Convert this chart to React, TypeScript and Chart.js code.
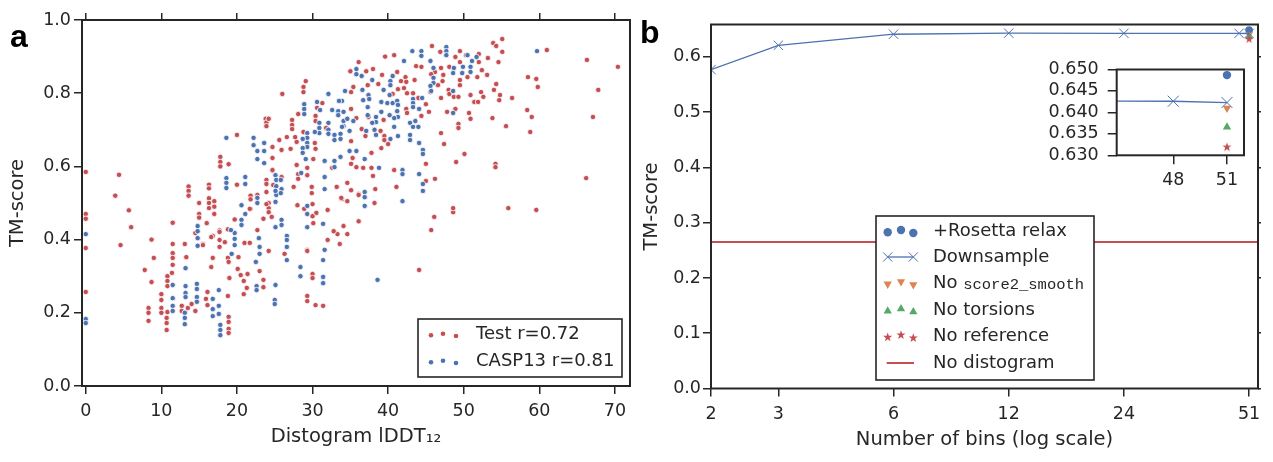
import React, { useEffect, useRef } from 'react';
import { Chart, registerables } from 'chart.js';
Chart.register(...registerables);

const RED = '#c44e52';
const BLUE = '#4c72b0';
const ORANGE = '#dd8452';
const GREEN = '#55a868';
const INK = '#262626';
const FONT = "'DejaVu Sans', sans-serif";

// ---------- panel a : distogram lDDT vs TM-score ----------
const testPoints: number[][] = [
  [0,0.585],[0,0.47],[0,0.457],[0,0.377],[0,0.257],
  [4.4,0.577],[3.9,0.52],[5.7,0.48],[6,0.434],[4.6,0.385],[8.7,0.40],[11.5,0.446],
  [13.6,0.545],[13.6,0.533],[13.6,0.52],[15,0.50],[15,0.47],[15,0.46],[16,0.445],
  [16.3,0.55],[16.3,0.54],[16.3,0.513],[16.3,0.50],[16.3,0.486],
  [17,0.505],[17,0.49],[17,0.47],[16.8,0.41],
  [17.8,0.626],[17.8,0.612],[17.8,0.60],[18.9,0.606],[17.7,0.425],[18.8,0.428],[19.7,0.455],
  [20,0.686],[20,0.55],[21.8,0.52],[21.8,0.51],[21.8,0.484],[22.7,0.426],
  [23.8,0.73],[23.9,0.72],[23.9,0.71],[23.9,0.563],[23.9,0.552],[23.9,0.53],[23.5,0.457],[24.2,0.5],[24.2,0.486],[24.7,0.588],
  [39.6,0.90],[36.1,0.885],[35,0.86],[38,0.866],[39.2,0.85],[37.1,0.86],[29.1,0.833],[28.8,0.817],[28.8,0.803],[26,0.798],
  [35.4,0.817],[37.3,0.822],[38.7,0.825],[35.1,0.803],[31.3,0.773],[30.6,0.76],[28.1,0.743],[27.3,0.727],[27.3,0.713],[27.3,0.702],
  [24.2,0.73],[30.4,0.738],[30.4,0.724],[31.8,0.705],[28.8,0.694],[35.1,0.757],[35.8,0.732],[37.4,0.735],[39.4,0.727],[39,0.697],
  [36.5,0.702],[37,0.683],[39.5,0.683],[39.5,0.672],[40,0.661],[39.1,0.65],[37.8,0.637],[35.1,0.669],[30.3,0.664],[30.4,0.648],
  [27.9,0.667],[27.7,0.68],[26.6,0.68],[25.6,0.672],[25.9,0.645],[24.7,0.653],[24.7,0.623],[27.1,0.648],[30.1,0.62],[29.3,0.596],
  [27.9,0.604],[24.7,0.59],[25.9,0.571],[28.1,0.579],[28.1,0.566],[29.3,0.576],[27.5,0.544],[29.9,0.544],[29.9,0.527],[22.7,0.522],
  [35.8,0.598],[35.1,0.607],[36.7,0.596],[37.8,0.596],[38,0.574],[38.3,0.538],[35.3,0.623],[34.6,0.555],[35.1,0.535],[36.1,0.525],
  [33.9,0.511],[33.2,0.544],[32.6,0.596],[24.8,0.549],
  [55.1,0.948],[53.9,0.937],[54.3,0.929],[55.1,0.913],[61,0.918],[54.6,0.885],[53.2,0.896],[52,0.907],[45.8,0.929],[46.9,0.913],
  [49.5,0.915],[48.9,0.899],[50.3,0.904],[52,0.885],[49.5,0.885],[52.4,0.863],[53.1,0.85],[51.8,0.844],[50.5,0.844],[49.5,0.836],
  [49.5,0.822],[48.1,0.872],[47,0.869],[47.3,0.85],[46.2,0.858],[45.7,0.852],[47.2,0.833],[46.6,0.822],[44.4,0.872],[43.7,0.874],
  [43.5,0.836],[41.2,0.858],[40.8,0.904],[42.3,0.844],[42.4,0.831],[41.7,0.833],[41.3,0.811],[42.1,0.814],[40.6,0.798],[42.5,0.8],
  [43.3,0.8],[44,0.787],[45.6,0.803],[48,0.809],[48.1,0.798],[48.7,0.79],[49.3,0.79],[47,0.787],[50.9,0.795],[52.3,0.803],
  [52.6,0.79],[51.4,0.776],[51.9,0.776],[54,0.809],[54.3,0.825],[54.8,0.795],[54.7,0.781],[56.4,0.787],[58.5,0.844],[59.6,0.839],
  [59.8,0.817],[58.4,0.754],[59,0.735],[58.8,0.694],[55.6,0.71],[53.8,0.732],[50.7,0.746],[50.9,0.73],[49.3,0.716],[49.3,0.705],
  [47.8,0.749],[48.9,0.757],[47,0.691],[47.4,0.661],[50.1,0.634],[49,0.612],[45,0.607],[46.2,0.566],[45,0.56],[54.2,0.607],
  [54.2,0.598],[41.1,0.544],[40.8,0.59],[45.4,0.749],[44.4,0.738],[45,0.77],[42.4,0.757],[42.5,0.746],
  [66.3,0.891],[70.4,0.872],[67.8,0.809],[67.1,0.735],[66.2,0.568],[59.6,0.481],[55.9,0.486],[46.1,0.462],[45.7,0.426],[48.6,0.475],
  [48.6,0.486],[44.1,0.317],
  [38.2,0.5],[36.1,0.45],[34.1,0.437],[34.6,0.415],[33.3,0.415],[32.8,0.423],[33.6,0.388],[32,0.399],[30,0.497],[30.5,0.473],
  [30,0.464],[30.1,0.445],[29.3,0.372],[30,0.306],[30,0.295],[29.3,0.246],[29.3,0.232],[30.4,0.221],[31.4,0.219],[36.1,0.522],
  [34.6,0.505],[33.8,0.514],[32,0.481],
  [11.5,0.388],[13.1,0.388],[14.5,0.418],[15.5,0.388],[16.6,0.407],[17.7,0.421],[17.7,0.399],[17.7,0.38],[18.4,0.393],[21,0.391],
  [21.7,0.391],[20.2,0.352],[18.8,0.35],[18.9,0.339],[16.8,0.35],[16.6,0.325],[13.3,0.352],[11.5,0.363],[11.5,0.35],[11.5,0.331],
  [11.4,0.309],[9,0.35],[7.8,0.317],[8.7,0.284],[10.8,0.3],[10.8,0.287],[10.8,0.273],[10,0.251],[10,0.235],[10,0.213],
  [10,0.2],[8.3,0.213],[8.3,0.2],[8.3,0.178],[10.7,0.186],[10.7,0.172],[10.7,0.153],[10.8,0.202],[12.7,0.219],[12.7,0.205],
  [13.5,0.213],[14,0.224],[14.5,0.205],[15.9,0.238],[16.1,0.257],[16.1,0.221],[18.8,0.246],[18.9,0.189],[18.9,0.175],[18.9,0.156],
  [18.9,0.145],[19,0.295],[20.1,0.32],[20.5,0.303],[20.9,0.287],[21.4,0.306],[21.3,0.268],[20.9,0.251],[23,0.314],[23.5,0.29],
  [23.5,0.27],[24.2,0.369],[26.3,0.361],[29.3,0.369],[28,0.494],[28.9,0.484],[23.9,0.497],[24.2,0.475],[24.6,0.462],[21.7,0.484],
  [15.5,0.385],
];

const caspPoints: number[][] = [
  [0,0.415],[0,0.183],[0,0.172],
  [35.8,0.866],[35.8,0.852],[36.5,0.847],[37.9,0.836],[39.4,0.809],[36.6,0.809],[37.4,0.795],[37.5,0.784],[34.3,0.806],[32.1,0.798],
  [33.9,0.779],[33.5,0.779],[30.6,0.776],[31,0.754],[28.9,0.77],[28.9,0.757],[28.9,0.743],[32.6,0.754],[33.4,0.751],[33.4,0.74],
  [34.1,0.749],[34.1,0.724],[34.1,0.71],[34.6,0.73],[37.3,0.762],[37.3,0.74],[36.7,0.781],[39.1,0.776],[39.1,0.749],[38.4,0.735],
  [38.4,0.721],[38.4,0.686],[37.9,0.719],[38.2,0.70],[37.1,0.697],[34.9,0.697],[33.9,0.708],[35.4,0.724],[32.1,0.719],[32.1,0.70],
  [32.1,0.689],[32.9,0.686],[32.9,0.672],[33.7,0.689],[33.7,0.675],[30.9,0.719],[30.9,0.705],[30.9,0.691],[30.3,0.694],[29.3,0.691],
  [29.3,0.678],[29.3,0.664],[29.3,0.653],[28.7,0.675],[28.7,0.65],[28.7,0.637],[29.1,0.62],[22.2,0.678],[22.2,0.658],[23.6,0.664],
  [23.6,0.642],[22.7,0.642],[22.7,0.62],[23.6,0.609],[18.6,0.678],[18.6,0.568],[18.6,0.555],[18.6,0.541],[21.1,0.571],[21.1,0.552],
  [25.1,0.576],[25.2,0.563],[25.2,0.546],[25.8,0.563],[25.9,0.538],[25.2,0.522],[22.7,0.514],[31.6,0.615],[31.6,0.571],[32.9,0.615],
  [32.9,0.598],[33.7,0.626],[34.9,0.642],[35.8,0.642],[36.9,0.62],[38.8,0.596],[31.6,0.538],[36.9,0.53],[36.9,0.516],[28.5,0.582],
  [59.7,0.915],[43.2,0.915],[44.4,0.915],[44.4,0.902],[47.7,0.926],[47.7,0.915],[47.7,0.904],[45.6,0.888],[42.1,0.888],[50.5,0.904],
  [51.7,0.899],[51.1,0.888],[50.9,0.872],[50.9,0.858],[48.7,0.869],[48.6,0.855],[49.9,0.872],[49.8,0.855],[46,0.869],[46,0.842],
  [46,0.828],[45.6,0.82],[45.7,0.806],[48.6,0.806],[40.6,0.847],[40.3,0.833],[40.3,0.822],[40.2,0.795],[39.9,0.773],[40.6,0.773],
  [41.2,0.779],[41.3,0.768],[41.2,0.751],[41.3,0.735],[43.3,0.784],[43.3,0.773],[43.3,0.762],[44.5,0.787],[44.1,0.757],[43.6,0.724],
  [42.9,0.719],[43.3,0.708],[44,0.708],[40.2,0.74],[40.8,0.732],[40.8,0.708],[41.3,0.683],[40.3,0.675],[42.9,0.686],[42.9,0.672],
  [44.1,0.664],[48.6,0.746],[44.6,0.645],[44.6,0.634],[41.9,0.59],[41.9,0.579],[44.1,0.579],[44.6,0.552],[44.6,0.533],
  [31.4,0.443],[31.6,0.372],[31.4,0.344],[31.4,0.298],[31.4,0.281],[38.6,0.29],[36.9,0.492],[41.9,0.505],[29.3,0.492],[29.3,0.47],
  [29.3,0.434],
  [20.6,0.494],[21.1,0.47],[20.6,0.454],[20.6,0.44],[22.7,0.5],[25.1,0.533],[25.8,0.527],[25.1,0.503],[25.9,0.454],[25.9,0.44],
  [25.1,0.434],[22.9,0.404],[23,0.38],[23,0.361],[26.6,0.41],[26.6,0.399],[26.6,0.38],[26.6,0.344],[22.5,0.339],[22.6,0.273],
  [22.6,0.262],[25.1,0.276],[25,0.235],[25,0.224],[28.4,0.325],[28.4,0.3],[14.8,0.437],[14.8,0.423],[14.8,0.404],[14.8,0.383],
  [19.7,0.418],[19.7,0.402],[19.7,0.385],[19.3,0.361],[19.2,0.426],[13.2,0.322],[13.2,0.273],[13.2,0.254],[13.2,0.243],[11.5,0.276],
  [11.5,0.24],[11.5,0.219],[11.5,0.205],[14.7,0.279],[14.7,0.265],[14.7,0.243],[14.7,0.23],[17.6,0.262],[16.8,0.238],[16.8,0.21],
  [16.8,0.191],[17.6,0.219],[17.6,0.197],[13.1,0.2],[13.1,0.186],[13.1,0.169],[17.8,0.167],[17.8,0.153],[17.8,0.139],
];

const aXTicks = [0, 10, 20, 30, 40, 50, 60, 70];
const aYTicks = [0, 0.2, 0.4, 0.6, 0.8, 1.0];
const aLegend = ['Test r=0.72', 'CASP13 r=0.81'];

// ---------- panel b : number of bins ----------
const bins = [2, 3, 6, 12, 24, 48, 51];
const downsample = [0.577, 0.621, 0.641, 0.643, 0.6427, 0.6426, 0.6423];
const fullBins = 51;
const rosettaRelax = 0.6487;
const noScore2Smooth = 0.641;
const noTorsions = 0.6366;
const noReference = 0.6319;
const noDistogram = 0.265;
const bXTicks = [2, 3, 6, 12, 24, 51];
const bYTicks = [0, 0.1, 0.2, 0.3, 0.4, 0.5, 0.6];
const insetXTicks = [48, 51];
const insetYTicks = [0.63, 0.635, 0.64, 0.645, 0.65];
const bLegend = ['+Rosetta relax', 'Downsample', 'No ', 'No torsions', 'No reference', 'No distogram'];
const bLegendMono = 'score2_smooth';

const B_XMIN = 2;
const B_XMAX = 53.8;

function tickGrid(len: number) {
  return { display: true, drawOnChartArea: false, drawTicks: true, tickLength: len, color: INK, lineWidth: 1.5 };
}
function fixedTicks(vals: number[]) {
  return (axis: any) => { axis.ticks = vals.map((value) => ({ value })); };
}

function drawStarPath(ctx: CanvasRenderingContext2D, cx: number, cy: number, r: number) {
  ctx.beginPath();
  for (let i = 0; i < 10; i++) {
    const rr = i % 2 === 0 ? r : r * 0.4;
    const a = -Math.PI / 2 + (i * Math.PI) / 5;
    const px = cx + rr * Math.cos(a);
    const py = cy + rr * Math.sin(a);
    if (i === 0) ctx.moveTo(px, py); else ctx.lineTo(px, py);
  }
  ctx.closePath();
}
function makeStar(r: number, color: string) {
  const s = Math.ceil(r * 2 + 2);
  const c = document.createElement('canvas');
  c.width = s; c.height = s;
  const ctx = c.getContext('2d')!;
  drawStarPath(ctx, s / 2, s / 2, r);
  ctx.fillStyle = color; ctx.fill();
  return c;
}
function drawMarker(ctx: CanvasRenderingContext2D, kind: string, x: number, y: number, r: number, color: string) {
  ctx.save();
  ctx.fillStyle = color; ctx.strokeStyle = color;
  if (kind === 'circle') {
    ctx.beginPath(); ctx.arc(x, y, r, 0, Math.PI * 2); ctx.fill();
  } else if (kind === 'tdown' || kind === 'tup') {
    const s = kind === 'tup' ? -1 : 1;
    ctx.beginPath();
    ctx.moveTo(x, y + s * r);
    ctx.lineTo(x - r * 0.9, y - s * r * 0.6);
    ctx.lineTo(x + r * 0.9, y - s * r * 0.6);
    ctx.closePath(); ctx.fill();
  } else if (kind === 'star') {
    drawStarPath(ctx, x, y, r); ctx.fill();
  } else if (kind === 'x') {
    ctx.lineWidth = 1;
    ctx.beginPath();
    ctx.moveTo(x - r, y - r); ctx.lineTo(x + r, y + r);
    ctx.moveTo(x - r, y + r); ctx.lineTo(x + r, y - r);
    ctx.stroke();
  }
  ctx.restore();
}

const framePlugin = {
  id: 'frame',
  afterDraw(chart: any) {
    const { ctx, chartArea: a } = chart;
    ctx.save();
    ctx.strokeStyle = INK; ctx.lineWidth = 2;
    ctx.strokeRect(a.left, a.top, a.right - a.left, a.bottom - a.top);
    ctx.restore();
  },
};

export default function App() {
  const aRef = useRef<HTMLCanvasElement>(null);
  const bRef = useRef<HTMLCanvasElement>(null);
  const iRef = useRef<HTMLCanvasElement>(null);

  useEffect(() => {
    const font = { family: FONT, size: 17.5 };
    const titleFont = { family: FONT, size: 19.5 };
    const LEG = `18px ${FONT}`;
    const starMain = makeStar(4.6, RED);
    const starInset = makeStar(4.8, RED);

    // ---------- panel a ----------
    const chartA = new Chart(aRef.current!, {
      type: 'scatter',
      data: {
        datasets: [
          { label: 'CASP13', data: caspPoints.map(([x, y]) => ({ x, y })), backgroundColor: BLUE, borderColor: '#ffffff', pointRadius: 2.7, pointBorderWidth: 0.8, order: 0 },
          { label: 'Test', data: testPoints.map(([x, y]) => ({ x, y })), backgroundColor: RED, borderColor: '#ffffff', pointRadius: 2.7, pointBorderWidth: 0.8, order: 1 },
        ],
      },
      options: {
        responsive: false, animation: false, events: [],
        layout: { padding: { left: 0, right: 10, top: 0, bottom: 0 } },
        scales: {
          x: {
            type: 'linear', position: 'bottom', min: -0.5, max: 72,
            afterBuildTicks: fixedTicks(aXTicks),
            afterFit: (s: any) => { s.height = 76; },
            ticks: { font, color: INK, padding: 7, autoSkip: false, maxRotation: 0, callback: (v: any) => String(v) },
            grid: tickGrid(8), border: { display: false },
            title: { display: true, text: 'Distogram lDDT\u2081\u2082', font: titleFont, color: INK, padding: { top: 0, bottom: 13 } },
          },
          xTop: {
            type: 'linear', position: 'top', min: -0.5, max: 72,
            afterBuildTicks: fixedTicks(aXTicks),
            afterFit: (s: any) => { s.height = 20; },
            ticks: { display: false }, grid: tickGrid(7), border: { display: false },
          },
          y: {
            type: 'linear', position: 'left', min: 0, max: 1,
            afterBuildTicks: fixedTicks(aYTicks),
            afterFit: (s: any) => { s.width = 82; },
            ticks: { font, color: INK, padding: 3, autoSkip: false, callback: (v: any) => Number(v).toFixed(1) },
            grid: tickGrid(8), border: { display: false },
            title: { display: true, text: 'TM-score', font: titleFont, color: INK, padding: { top: 6, bottom: 0 } },
          },
        },
        plugins: { legend: { display: false }, tooltip: { enabled: false } },
      } as any,
      plugins: [
        framePlugin,
        {
          id: 'legendA',
          afterDraw(chart: any) {
            const ctx = chart.ctx as CanvasRenderingContext2D;
            ctx.save();
            ctx.fillStyle = '#ffffff';
            ctx.fillRect(418, 319, 204, 58);
            ctx.strokeStyle = INK; ctx.lineWidth = 1.6;
            ctx.strokeRect(418, 319, 204, 58);
            const rows = [334.5, 361.5];
            const cols = [RED, BLUE];
            const offs = [[431, 0.8], [443, -0.8], [456, 1.5]];
            rows.forEach((ry, i) => {
              offs.forEach(([mx, dy]) => {
                ctx.beginPath(); ctx.arc(mx, ry + dy, 2.3, 0, Math.PI * 2);
                ctx.fillStyle = cols[i]; ctx.fill();
              });
              ctx.fillStyle = INK; ctx.font = LEG; ctx.textBaseline = 'middle'; ctx.textAlign = 'left';
              ctx.fillText(aLegend[i], 476, ry);
            });
            ctx.font = `bold 32px 'Liberation Sans', Arial, sans-serif`;
            ctx.textBaseline = 'alphabetic';
            ctx.fillStyle = '#000000';
            ctx.fillText('a', 10, 47);
            ctx.restore();
          },
        },
      ],
    });

    // ---------- panel b ----------
    const downsampleData = bins.map((b, i) => ({ x: b, y: downsample[i] }));
    const single = (v: number) => [{ x: fullBins, y: v }];
    const chartB = new Chart(bRef.current!, {
      type: 'scatter',
      data: {
        datasets: [
          { label: 'No distogram', data: [{ x: B_XMIN, y: noDistogram }, { x: B_XMAX, y: noDistogram }], showLine: true, borderColor: RED, borderWidth: 2, pointRadius: 0 },
          { label: 'Downsample', data: downsampleData, showLine: true, borderColor: BLUE, borderWidth: 1.3, pointStyle: 'crossRot', pointRadius: 6.6, pointBorderColor: BLUE, pointBorderWidth: 1, backgroundColor: 'transparent' },
          { label: 'No reference', data: single(noReference), pointStyle: starMain, pointRadius: 4.6, backgroundColor: RED },
          { label: 'No torsions', data: single(noTorsions), pointStyle: 'triangle', pointRadius: 4.5, backgroundColor: GREEN, borderColor: GREEN, pointBorderWidth: 0 },
          { label: 'No score2_smooth', data: single(noScore2Smooth), pointStyle: 'triangle', rotation: 180, pointRadius: 4.5, backgroundColor: ORANGE, borderColor: ORANGE, pointBorderWidth: 0 },
          { label: '+Rosetta relax', data: single(rosettaRelax), pointStyle: 'circle', pointRadius: 3.8, backgroundColor: BLUE, borderColor: BLUE, pointBorderWidth: 0 },
        ],
      },
      options: {
        responsive: false, animation: false, events: [],
        layout: { padding: { left: 0, right: 0, top: 24.5, bottom: 0 } },
        scales: {
          x: {
            type: 'logarithmic', position: 'bottom', min: B_XMIN, max: B_XMAX,
            afterBuildTicks: fixedTicks(bXTicks),
            afterFit: (s: any) => { s.height = 73.5; },
            ticks: { font, color: INK, padding: 7, autoSkip: false, maxRotation: 0, callback: (v: any) => String(v) },
            grid: tickGrid(8), border: { display: false },
            title: { display: true, text: 'Number of bins (log scale)', font: titleFont, color: INK, padding: { top: 0, bottom: 10 } },
          },
          y: {
            type: 'linear', position: 'left', min: 0, max: 0.6586,
            afterBuildTicks: fixedTicks(bYTicks),
            afterFit: (s: any) => { s.width = 71; },
            ticks: { font, color: INK, padding: 2, autoSkip: false, callback: (v: any) => Number(v).toFixed(1) },
            grid: tickGrid(8), border: { display: false },
            title: { display: true, text: 'TM-score', font: titleFont, color: INK, padding: { top: 0, bottom: 0 } },
          },
          yRight: {
            type: 'linear', position: 'right', min: 0, max: 0.6586,
            afterBuildTicks: fixedTicks(bYTicks),
            afterFit: (s: any) => { s.width = 15; },
            ticks: { display: false }, grid: tickGrid(3), border: { display: false },
          },
        },
        plugins: { legend: { display: false }, tooltip: { enabled: false } },
      } as any,
      plugins: [
        framePlugin,
        {
          id: 'legendB',
          afterDraw(chart: any) {
            const ctx = chart.ctx as CanvasRenderingContext2D;
            const ox = -640;
            ctx.save();
            ctx.fillStyle = '#ffffff';
            ctx.fillRect(876 + ox, 216, 218, 164);
            ctx.strokeStyle = INK; ctx.lineWidth = 1.6;
            ctx.strokeRect(876 + ox, 216, 218, 164);
            const rows = [231.5, 257, 283.5, 310, 336.5, 363];
            const mx = [887.7 + ox, 901 + ox, 913.3 + ox];
            const dy = [0.8, -1.5, 1.5];
            const kinds: [string, string, number][] = [['circle', BLUE, 4.2], ['', BLUE, 0], ['tdown', ORANGE, 4.6], ['tup', GREEN, 4.6], ['star', RED, 4.8]];
            rows.forEach((ry, i) => {
              if (i === 1) {
                ctx.strokeStyle = BLUE; ctx.lineWidth = 1.3;
                ctx.beginPath(); ctx.moveTo(mx[0], ry); ctx.lineTo(mx[2], ry); ctx.stroke();
                drawMarker(ctx, 'x', mx[0], ry, 4.6, BLUE);
                drawMarker(ctx, 'x', mx[2], ry, 4.6, BLUE);
              } else if (i === 5) {
                ctx.strokeStyle = RED; ctx.lineWidth = 2;
                ctx.beginPath(); ctx.moveTo(886.7 + ox, ry); ctx.lineTo(914 + ox, ry); ctx.stroke();
              } else {
                const [k, c, r] = kinds[i];
                mx.forEach((x, j) => drawMarker(ctx, k, x, ry + dy[j], r, c));
              }
              ctx.fillStyle = INK; ctx.font = LEG; ctx.textBaseline = 'middle'; ctx.textAlign = 'left';
              ctx.fillText(bLegend[i], 933 + ox, ry);
              if (i === 2) {
                const w = ctx.measureText(bLegend[i]).width;
                ctx.font = `15.5px 'Liberation Mono', monospace`;
                ctx.fillText(bLegendMono, 933 + ox + w, ry + 1);
              }
            });
            ctx.font = `bold 32px 'Liberation Sans', Arial, sans-serif`;
            ctx.textBaseline = 'alphabetic';
            ctx.fillStyle = '#000000';
            ctx.fillText('b', 0, 43);
            ctx.restore();
          },
        },
      ],
    });

    // ---------- inset ----------
    const chartI = new Chart(iRef.current!, {
      type: 'scatter',
      data: {
        datasets: [
          { label: 'Downsample', data: downsampleData, showLine: true, borderColor: BLUE, borderWidth: 1.3, pointStyle: 'crossRot', pointRadius: 7.8, pointBorderColor: BLUE, pointBorderWidth: 1, backgroundColor: 'transparent' },
          { label: 'No reference', data: single(noReference), pointStyle: starInset, pointRadius: 4.8, backgroundColor: RED },
          { label: 'No torsions', data: single(noTorsions), pointStyle: 'triangle', pointRadius: 4.8, backgroundColor: GREEN, borderColor: GREEN, pointBorderWidth: 0 },
          { label: 'No score2_smooth', data: single(noScore2Smooth), pointStyle: 'triangle', rotation: 180, pointRadius: 4.8, backgroundColor: ORANGE, borderColor: ORANGE, pointBorderWidth: 0 },
          { label: '+Rosetta relax', data: single(rosettaRelax), pointStyle: 'circle', pointRadius: 4.2, backgroundColor: BLUE, borderColor: BLUE, pointBorderWidth: 0 },
        ],
      },
      options: {
        responsive: false, animation: false, events: [],
        layout: { padding: { left: 0, right: 11, top: 16, bottom: 0 } },
        scales: {
          x: {
            type: 'linear', position: 'bottom', min: 44.84, max: 51.95,
            afterBuildTicks: fixedTicks(insetXTicks),
            afterFit: (s: any) => { s.height = 39.7; },
            ticks: { font, color: INK, padding: 6, autoSkip: false, maxRotation: 0, callback: (v: any) => String(v) },
            grid: tickGrid(9), border: { display: false },
          },
          y: {
            type: 'linear', position: 'left', min: 0.63, max: 0.65,
            afterBuildTicks: fixedTicks(insetYTicks),
            afterFit: (s: any) => { s.width = 86.7; },
            ticks: { font, color: INK, padding: 9, autoSkip: false, callback: (v: any) => Number(v).toFixed(3) },
            grid: tickGrid(9), border: { display: false },
          },
        },
        plugins: { legend: { display: false }, tooltip: { enabled: false } },
      } as any,
      plugins: [
        {
          id: 'insetBg',
          beforeDraw(chart: any) {
            const { ctx, chartArea: a } = chart;
            ctx.save(); ctx.fillStyle = '#ffffff';
            ctx.fillRect(a.left, a.top, a.right - a.left, a.bottom - a.top);
            ctx.restore();
          },
        },
        framePlugin,
      ],
    });

    return () => { chartA.destroy(); chartB.destroy(); chartI.destroy(); };
  }, []);

  return (
    <div style={{ position: 'absolute', left: 0, top: 0, width: 1273, height: 462, background: '#ffffff' }}>
      <canvas ref={aRef} width={640} height={462} style={{ position: 'absolute', left: 0, top: 0 }} />
      <canvas ref={bRef} width={633} height={462} style={{ position: 'absolute', left: 640, top: 0 }} />
      <canvas ref={iRef} width={225} height={145} style={{ position: 'absolute', left: 1030, top: 50 }} />
    </div>
  );
}
